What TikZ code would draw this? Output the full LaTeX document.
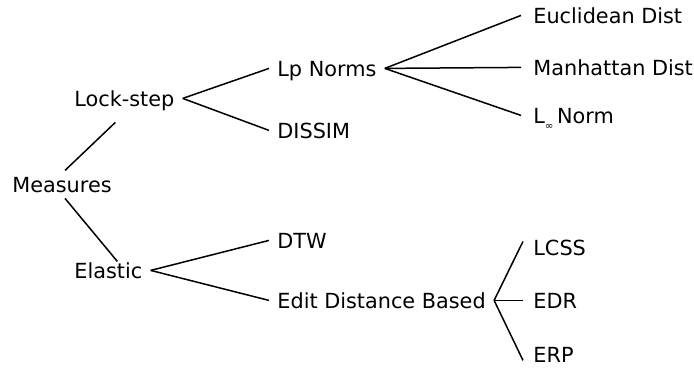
\documentclass[tikz,border=0pt]{standalone}
\usepackage{fontspec}
\setmainfont{DejaVu Sans}
\begin{document}
\begin{tikzpicture}[x=0.5pt,y=-0.5pt,
  lbl/.style={anchor=base west,inner xsep=4pt,inner ysep=2pt,text height=7.6pt,text depth=0pt,font=\fontsize{10.4}{12}\selectfont},
  edge/.style={draw=black,line width=0.75pt}]
\useasboundingbox (0,0) rectangle (694,370);
\node[lbl] (m) at (4,192) {Measures};
\node[lbl] (ls) at (66,106) {Lock-step};
\node[lbl] (el) at (66,278) {Elastic};
\node[lbl] (lp) at (269,76) {Lp Norms};
\node[lbl] (ds) at (269,138) {DISSIM};
\node[lbl] (dtw) at (269,248) {DTW};
\node[lbl] (ed) at (269,308) {Edit Distance Based};
\node[lbl] (eu) at (525,23) {Euclidean Dist};
\node[lbl] (mh) at (525,75) {Manhattan Dist};
\node[lbl] (li) at (525,123) {L\raisebox{-3.3pt}{\fontsize{5.2}{5}\selectfont ∞}\,Norm};
\node[lbl] (lc) at (525,255) {LCSS};
\node[lbl] (edr) at (525,308) {EDR};
\node[lbl] (erp) at (525,362) {ERP};
\draw[edge] ([xshift=1.5pt,yshift=1pt]m.north) -- ([xshift=-4.5pt,yshift=-6pt]ls.south);
\draw[edge] ([xshift=1.5pt,yshift=-1pt]m.south) -- ([xshift=4.5pt,yshift=-1.5pt]el.north);
\draw[edge] (ls.east) -- (lp.west);
\draw[edge] (ls.east) -- (ds.west);
\draw[edge] (el.east) -- (dtw.west);
\draw[edge] (el.east) -- (ed.west);
\draw[edge] (lp.east) -- ([xshift=-2pt]eu.west);
\draw[edge] (lp.east) -- ([xshift=-2pt]mh.west);
\draw[edge] (lp.east) -- ([xshift=-2pt]li.west);
\draw[edge] (ed.east) -- ([xshift=-1pt,yshift=3pt]lc.west);
\draw[edge] (ed.east) -- ([xshift=-1pt]edr.west);
\draw[edge] (ed.east) -- ([xshift=-1pt,yshift=-3pt]erp.west);
\end{tikzpicture}
\end{document}
